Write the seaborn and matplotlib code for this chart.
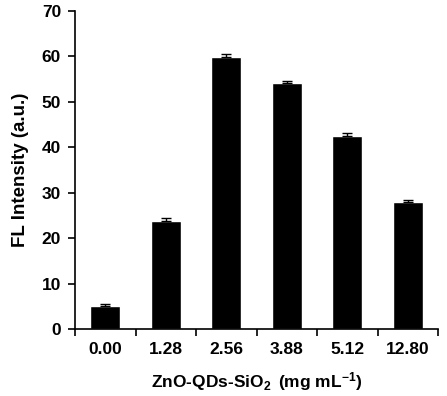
import numpy as np
import matplotlib
matplotlib.use("Agg")
import matplotlib.pyplot as plt
import seaborn as sns

# Data
concentrations = ["0.00", "1.28", "2.56", "3.88", "5.12", "12.80"]
intensity = [5.1, 23.8, 59.9, 54.1, 42.5, 28.0]
intensity_err = [0.4, 0.7, 0.6, 0.5, 0.7, 0.4]

sns.set_theme(style="white")
plt.rcParams['font.family'] = ['Liberation Sans', 'DejaVu Sans']
plt.rcParams['font.weight'] = 'bold'
plt.rcParams['text.color'] = 'black'
plt.rcParams['axes.labelcolor'] = 'black'
plt.rcParams['xtick.color'] = 'black'
plt.rcParams['ytick.color'] = 'black'
plt.rcParams['mathtext.fontset'] = 'custom'
plt.rcParams['mathtext.bf'] = 'Liberation Sans:bold'
plt.rcParams['mathtext.rm'] = 'Liberation Sans:bold'
plt.rcParams['mathtext.default'] = 'bf'

fig = plt.figure(figsize=(4.47, 3.96), dpi=100)
ax = fig.add_axes([75 / 447, 67 / 396, 363 / 447, 318 / 396])

sns.barplot(x=concentrations, y=intensity, color="black", saturation=1,
            width=0.5, ax=ax, errorbar=None)
ax.errorbar(np.arange(len(concentrations)), intensity,
            yerr=[np.zeros(len(intensity_err)), intensity_err],
            fmt="none", ecolor="black", elinewidth=1, capsize=3.5, capthick=1)

ax.set_xlim(-0.5, len(concentrations) - 0.5)
ax.set_ylim(0, 70)
ax.set_yticks(range(0, 71, 10))
ax.set_xticks(np.arange(-0.5, len(concentrations)), minor=True)
ax.tick_params(axis="x", which="major", length=0, labelsize=12.5, pad=9)
ax.tick_params(axis="x", which="minor", length=5, width=1.2, direction="out",
               color="black", bottom=True)
ax.tick_params(axis="y", length=5, width=1.2, direction="out", color="black",
               labelsize=12.5, left=True, pad=5)
for lbl in ax.get_xticklabels() + ax.get_yticklabels():
    lbl.set_fontweight("bold")

for side in ["top", "right"]:
    ax.spines[side].set_visible(False)
for side in ["left", "bottom"]:
    ax.spines[side].set_color("black")
    ax.spines[side].set_linewidth(1.2)

ax.set_xlabel(r"ZnO-QDs-SiO$_2$ $\,$(mg mL$^{-1}$)", fontsize=12.5,
              fontweight="bold", labelpad=10)
ax.set_ylabel("FL Intensity (a.u.)", fontsize=13.5, fontweight="bold",
              labelpad=9)

fig.savefig("out.png", dpi=100)
